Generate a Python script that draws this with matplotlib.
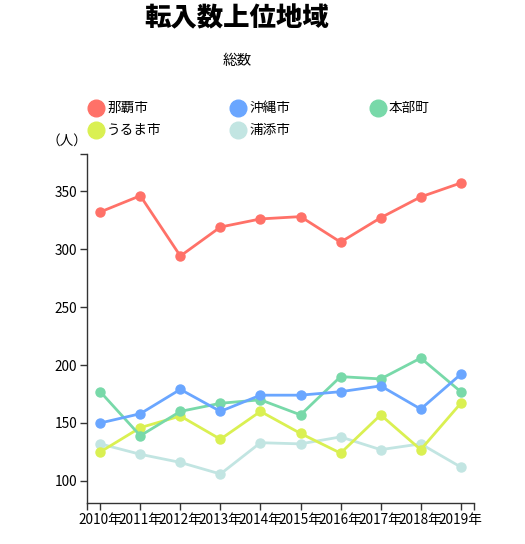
import matplotlib.pyplot as plt
from matplotlib.lines import Line2D

plt.rcParams['font.family'] = ['Noto Sans CJK JP', 'DejaVu Sans']

# data
years = [2010, 2011, 2012, 2013, 2014, 2015, 2016, 2017, 2018, 2019]
year_labels = [f"{y}年" for y in years]

naha = [332, 346, 294, 319, 326, 328, 306, 327, 345, 357]
okinawa = [150, 158, 179, 160, 174, 174, 177, 182, 162, 192]
motobu = [177, 139, 160, 167, 170, 157, 190, 188, 206, 177]
uruma = [125, 146, 156, 136, 160, 141, 124, 157, 127, 167]
urasoe = [132, 123, 116, 106, 133, 132, 138, 127, 132, 112]

names = ["那覇市", "沖縄市", "本部町", "うるま市", "浦添市"]
colors = ["#ff7168", "#6aa6ff", "#78d9a9", "#daf052", "#c2e5e2"]
series = [naha, okinawa, motobu, uruma, urasoe]

W, H = 525, 544
fig = plt.figure(figsize=(W / 100, H / 100), dpi=100)
ax = fig.add_axes([87 / W, (H - 503) / H, (474 - 87) / W, (503 - 154) / H])

x = list(range(len(years)))
# draw order: bottom to top like the reference
for idx in [4, 3, 2, 1, 0]:
    ax.plot(x, series[idx], color=colors[idx], lw=2.0,
            marker="o", markersize=6.5, solid_capstyle="round")

ax.set_xlim(-0.33, len(years) - 1 + 0.33)
ax.set_ylim(81, 382)
ax.set_xticks(x)
ax.set_xticklabels(year_labels, fontsize=9.8)
ax.set_yticks([100, 150, 200, 250, 300, 350])
ax.tick_params(axis="y", labelsize=9.8)
ax.set_xticks(ax.get_xlim(), minor=True)
ax.set_yticks([ax.get_ylim()[1]], minor=True)
ax.tick_params(which="both", length=5, width=1, color="#333333", pad=2)

for side in ["top", "right"]:
    ax.spines[side].set_visible(False)
for side in ["left", "bottom"]:
    ax.spines[side].set_color("#333333")
    ax.spines[side].set_linewidth(1)

fig.text(237 / W, 1 - 18 / H, "転入数上位地域", ha="center", va="center",
         fontsize=19, fontweight="heavy")
fig.text(237 / W, 1 - 61 / H, "総数", ha="center", va="center", fontsize=10.5)
fig.text(67 / W, 1 - 141 / H, "（人）", ha="center", va="center", fontsize=9.8)

# legend laid out in rows of three
leg_x = [96, 238, 378]
leg_y = [108, 130]
for i, (name, c) in enumerate(zip(names, colors)):
    lx = leg_x[i % 3]
    ly = leg_y[i // 3]
    fig.add_artist(Line2D([lx / W], [1 - ly / H], marker="o", markersize=12,
                          color=c, transform=fig.transFigure))
    fig.text((lx + 11) / W, 1 - ly / H, name, ha="left", va="center",
             fontsize=9.8)

fig.savefig("out.png", dpi=100)
